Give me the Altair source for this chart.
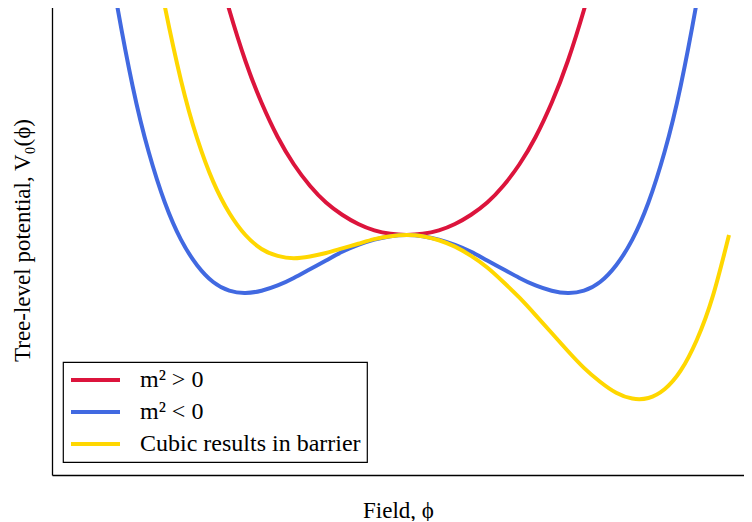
import altair as alt
import pandas as pd

# Values: field phi and tree-level potential V0(phi), arbitrary units
phi_red = [-1.15, -1.1, -1.0, -0.9, -0.8, -0.7, -0.6, -0.5, -0.4, -0.3, -0.2, -0.1, 0.0,
           0.1, 0.2, 0.3, 0.4, 0.5, 0.6, 0.7, 0.8, 0.9, 1.0, 1.1, 1.15]
v_red = [4.39, 3.88, 3.00, 2.28, 1.69, 1.22, 0.85, 0.56, 0.35, 0.19, 0.08, 0.02, 0.0,
         0.02, 0.08, 0.19, 0.35, 0.56, 0.85, 1.22, 1.69, 2.28, 3.00, 3.88, 4.39]

phi_blue = [-1.85, -1.8, -1.7, -1.6, -1.5, -1.4, -1.3, -1.2, -1.1, -1.0, -0.9, -0.8, -0.7, -0.6, -0.5,
            -0.4, -0.3, -0.2, -0.1, 0.0, 0.1, 0.2, 0.3, 0.4, 0.5, 0.6, 0.7, 0.8, 0.9, 1.0, 1.1, 1.2,
            1.3, 1.4, 1.5, 1.6, 1.7, 1.8, 1.85]
v_blue = [4.87, 4.02, 2.57, 1.43, 0.56, -0.08, -0.52, -0.81, -0.96, -1.0, -0.96, -0.87, -0.74, -0.59, -0.44,
          -0.29, -0.17, -0.08, -0.02, 0.0, -0.02, -0.08, -0.17, -0.29, -0.44, -0.59, -0.74, -0.87, -0.96, -1.0,
          -0.96, -0.81, -0.52, -0.08, 0.56, 1.43, 2.57, 4.02, 4.87]

phi_yellow = [-1.55, -1.5, -1.4, -1.3, -1.2, -1.1, -1.0, -0.9, -0.8, -0.7, -0.6, -0.5, -0.4, -0.3, -0.2,
              -0.1, 0.0, 0.1, 0.2, 0.3, 0.4, 0.5, 0.6, 0.7, 0.8, 0.9, 1.0, 1.1, 1.2, 1.3, 1.4, 1.5,
              1.6, 1.7, 1.8, 1.9, 2.0]
v_yellow = [4.69, 3.94, 2.67, 1.67, 0.92, 0.38, 0.0, -0.24, -0.36, -0.40, -0.37, -0.31, -0.23, -0.15, -0.07,
            -0.02, 0.0, -0.02, -0.09, -0.20, -0.36, -0.56, -0.81, -1.08, -1.38, -1.69, -2.0, -2.29, -2.53,
            -2.72, -2.82, -2.81, -2.66, -2.34, -1.81, -1.05, 0.0]

series_names = ["m² > 0", "m² < 0", "Cubic results in barrier"]
series_colors = ["crimson", "royalblue", "gold"]

rows = []
for name, xs, ys in zip(series_names, [phi_red, phi_blue, phi_yellow], [v_red, v_blue, v_yellow]):
    for i, (a, b) in enumerate(zip(xs, ys)):
        rows.append({"series": name, "phi": a, "V": b, "i": i})
df = pd.DataFrame(rows)

SERIF = "Liberation Serif"
W, H = 692, 470

xscale = alt.Scale(domain=[-2.2, 2.093], nice=False, zero=False)
yscale = alt.Scale(domain=[-4.138, 3.966], nice=False, zero=False)

lines = alt.Chart(df).mark_line(strokeWidth=4, clip=True, interpolate="natural").encode(
    x=alt.X("phi:Q", scale=xscale,
            axis=alt.Axis(title="Field, ϕ", labels=False, ticks=False, grid=False,
                          domain=True, domainColor="black", domainWidth=1.3,
                          titleFont=SERIF, titleFontSize=23, titleFontWeight="normal",
                          titleColor="black", titlePadding=24)),
    y=alt.Y("V:Q", scale=yscale,
            axis=alt.Axis(title="Tree-level potential, V₀(ϕ)", labels=False, ticks=False, grid=False,
                          domain=True, domainColor="black", domainWidth=1.3,
                          titleFont=SERIF, titleFontSize=23, titleFontWeight="normal",
                          titleColor="black", titlePadding=18)),
    color=alt.Color("series:N", scale=alt.Scale(domain=series_names, range=series_colors),
                    sort=series_names,
                    legend=alt.Legend(title=None, orient="none", legendX=11, legendY=357,
                                      symbolType="M-1,0H3.9", symbolSize=400, symbolStrokeWidth=4,
                                      labelFont=SERIF, labelFontSize=24, labelColor="black",
                                      labelLimit=500,
                                      labelOffset=47, rowPadding=8, padding=6,
                                      strokeColor="black", fillColor="white", cornerRadius=0,
                                      labelBaseline="middle")),
    order=alt.Order("i:Q"),
)

top_edge = alt.Chart(df).mark_rule(color="black", strokeWidth=1.3).encode(
    y=alt.value(0), x=alt.value(0), x2=alt.value(W + 20)
)

chart = alt.layer(lines, top_edge).properties(
    width=W, height=H,
    padding={"left": 44, "top": -3, "right": 0, "bottom": 46},
    autosize=alt.AutoSizeParams(type="none"),
).configure_view(
    stroke=None
).configure_legend(
    strokeWidth=1.2
)

chart.save("out.html", embed_options={"renderer": "svg", "actions": False})
